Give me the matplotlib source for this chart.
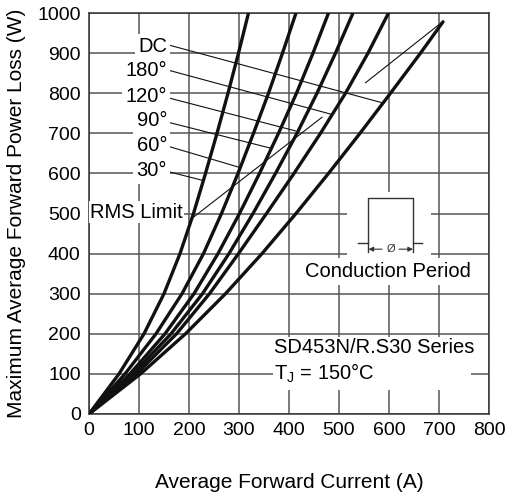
import matplotlib.pyplot as plt
from matplotlib.patches import Rectangle

plt.rcParams['font.family'] = ['Liberation Sans', 'DejaVu Sans']

# forward power loss levels (W) and the current (A) each curve needs to reach them
power = [0, 100, 200, 300, 400, 500, 600, 700, 800, 900, 1000]
i_30 = [0, 60, 110, 150, 182, 209, 233, 256, 278, 299, 319]
i_60 = [0, 72, 134, 186, 229, 265, 298, 329, 359, 387, 414]
i_90 = [0, 82, 152, 210, 258, 301, 341, 379, 415, 448, 479]
i_120 = [0, 88, 164, 227, 280, 328, 373, 416, 456, 493, 528]
i_180 = [0, 95, 175, 241, 299, 355, 410, 463, 513, 558, 599]
power_dc = [0, 100, 200, 300, 400, 500, 600, 700, 800, 900, 978]
i_dc = [0, 103, 193, 273, 346, 414, 479, 542, 603, 663, 708]

# RMS limit locus (gap where it is broken in the original)
rms_i = [206, 466, None, 553, 707]
rms_p = [488, 740, None, 826, 978]

labels = ["DC", "180°", "120°", "90°", "60°", "30°"]
label_y = [916, 856, 791, 733, 670, 607]
leader_y0 = [920, 857, 788, 727, 667, 604]
leader_x1 = [587, 483, 413, 363, 301, 226]
leader_y1 = [776, 748, 706, 663, 615, 583]

# conduction period sketch
wave_x = [538, 559, 559, 648, 648, 667]
wave_y = [426, 426, 538, 538, 426, 426]


def main():
    fig = plt.figure(figsize=(5.06, 4.93), dpi=100)
    ax = fig.add_axes([89 / 506, 79 / 493, 400 / 506, 401 / 493])

    for xs in [i_30, i_60, i_90, i_120, i_180]:
        ax.plot(xs, power, color="#111111", lw=2.4, zorder=4, solid_capstyle="round",
                solid_joinstyle="round")
    ax.plot(i_dc, power_dc, color="#111111", lw=2.4, zorder=4, solid_capstyle="round",
            solid_joinstyle="round")

    rx = [float("nan") if v is None else v for v in rms_i]
    ry = [float("nan") if v is None else v for v in rms_p]
    ax.plot(rx, ry, color="#111111", lw=0.8, zorder=3)

    for lab, ly, y0, x1, y1 in zip(labels, label_y, leader_y0, leader_x1, leader_y1):
        ax.text(156, ly, lab, ha="right", va="center", fontsize=14.5, zorder=5,
                bbox=dict(facecolor="white", edgecolor="none", pad=2.5))
        ax.plot([160, x1], [y0, y1], color="#111111", lw=0.8, zorder=3)
    ax.text(188, 503, "RMS Limit", ha="right", va="center", fontsize=14.5, zorder=5,
            bbox=dict(facecolor="white", edgecolor="none", pad=1.0))

    # conduction period inset
    ax.add_patch(Rectangle((517, 380), 167, 174, facecolor="white", edgecolor="none", zorder=2))
    ax.plot(wave_x, wave_y, color="#333333", lw=1.0, zorder=3)
    ax.plot([559, 559], [405, 426], color="#333333", lw=1.0, zorder=3)
    ax.plot([648, 648], [405, 426], color="#333333", lw=1.0, zorder=3)
    ax.annotate("", xy=(559, 411), xytext=(586, 411),
                arrowprops=dict(arrowstyle="-|>", color="#333333", lw=0.8,
                                mutation_scale=7, shrinkA=0, shrinkB=0), zorder=3)
    ax.annotate("", xy=(648, 411), xytext=(620, 411),
                arrowprops=dict(arrowstyle="-|>", color="#333333", lw=0.8,
                                mutation_scale=7, shrinkA=0, shrinkB=0), zorder=3)
    ax.text(603, 411, "Ø", ha="center", va="center", fontsize=8, color="#333333", zorder=3)
    ax.text(598, 355, "Conduction Period", ha="center", va="center", fontsize=14.5, zorder=5,
            bbox=dict(facecolor="white", edgecolor="none", pad=3))

    ax.add_patch(Rectangle((368, 60), 395, 133, facecolor="white", edgecolor="none", zorder=2))
    ax.text(370, 166, "SD453N/R.S30 Series", ha="left", va="center", fontsize=14.5, zorder=5)
    ax.text(370, 101, r"T$_\mathregular{J}$ = 150°C", ha="left", va="center",
            fontsize=14.5, zorder=5)

    ax.set_xlim(0, 800)
    ax.set_ylim(0, 1000)
    ax.set_xticks(range(0, 801, 100))
    ax.set_yticks(range(0, 1001, 100))
    ax.grid(True, color="#555555", lw=1.1)
    ax.set_axisbelow(True)
    ax.tick_params(length=0, labelsize=14, pad=6)
    for s in ax.spines.values():
        s.set_color("#333333")
        s.set_linewidth(1.1)

    ax.set_xlabel("Average Forward Current (A)", fontsize=15, labelpad=24)
    ax.set_ylabel("Maximum Average Forward Power Loss (W)", fontsize=15, labelpad=8)

    fig.savefig("out.png", dpi=100)


if __name__ == "__main__":
    main()
